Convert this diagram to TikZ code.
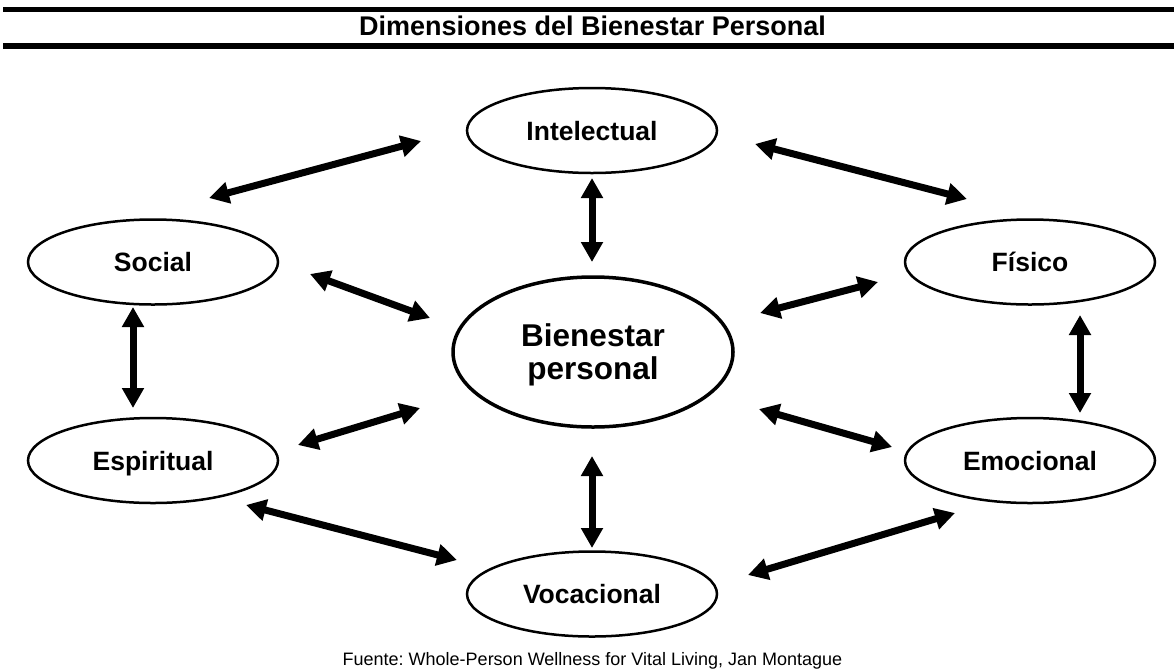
\documentclass[tikz,border=0pt]{standalone}
\usepackage{fontspec}
\setmainfont{Liberation Sans}
\usetikzlibrary{arrows.meta,shapes.geometric}
\frenchspacing
\tikzset{
  dim/.style={ellipse, draw=black, line width=2.5pt, minimum width=250pt, minimum height=85pt, inner sep=0pt,
    text height=19pt, text depth=0pt,
    font=\bfseries\fontsize{26.5}{30}\selectfont},
  core/.style={ellipse, draw=black, line width=3.5pt, minimum width=280pt, minimum height=150pt, inner sep=0pt,
    align=center, text height=55.5pt, text depth=0pt, font=\bfseries\fontsize{31.5}{33}\selectfont},
  biarrow/.style={line width=7pt, {Triangle[length=20pt,width=21pt]}-{Triangle[length=20pt,width=21pt]}},
  bar/.style={fill=black, draw=none}
}
\begin{document}
\begin{tikzpicture}[x=1pt,y=-1pt]
\useasboundingbox (0,0) rectangle (1174,670);
\fill[white] (0,0) rectangle (1174,670);
% title bars
\path[bar] (3,7) rectangle (1174,12);
\path[bar] (3,43) rectangle (1174,49);
\node[anchor=base, font=\bfseries\fontsize{27}{30}\selectfont] (title) at (592.5,35) {Dimensiones del Bienestar Personal};
% nodes
\node[dim] (int) at (592,130.5) {Intelectual};
\node[dim] (soc) at (153,262) {Social};
\node[dim] (fis) at (1030,262) {Físico};
\node[dim] (esp) at (153,460.5) {Espiritual};
\node[dim] (emo) at (1030,460.5) {Emocional};
\node[dim] (voc) at (592,594) {Vocacional};
\node[core] (bien) at (593,352) {Bienestar\\personal};
% arrow end points
\coordinate (a1) at (209,198);  \coordinate (a2) at (421,141);
\coordinate (b1) at (755,144);  \coordinate (b2) at (967,199);
\coordinate (c1) at (592,178);  \coordinate (c2) at (592,262);
\coordinate (d1) at (310,274);  \coordinate (d2) at (430,318);
\coordinate (e1) at (760,313);  \coordinate (e2) at (878,282);
\coordinate (f1) at (133,307);  \coordinate (f2) at (133,408);
\coordinate (g1) at (1080,315); \coordinate (g2) at (1080,413);
\coordinate (h1) at (298,445);  \coordinate (h2) at (420,408);
\coordinate (i1) at (759,409);  \coordinate (i2) at (892,447);
\coordinate (j1) at (592,456);  \coordinate (j2) at (592,548);
\coordinate (k1) at (246,505);  \coordinate (k2) at (457,560);
\coordinate (l1) at (748,575);  \coordinate (l2) at (955,513);
\draw[biarrow] (a1) -- (a2);
\draw[biarrow] (b1) -- (b2);
\draw[biarrow] (c1) -- (c2);
\draw[biarrow] (d1) -- (d2);
\draw[biarrow] (e1) -- (e2);
\draw[biarrow] (f1) -- (f2);
\draw[biarrow] (g1) -- (g2);
\draw[biarrow] (h1) -- (h2);
\draw[biarrow] (i1) -- (i2);
\draw[biarrow] (j1) -- (j2);
\draw[biarrow] (k1) -- (k2);
\draw[biarrow] (l1) -- (l2);
% caption
\node[anchor=base, font=\fontsize{18}{21}\selectfont] (src) at (592.5,665) {Fuente: Whole-Person Wellness for Vital Living, Jan Montague};
\end{tikzpicture}
\end{document}
